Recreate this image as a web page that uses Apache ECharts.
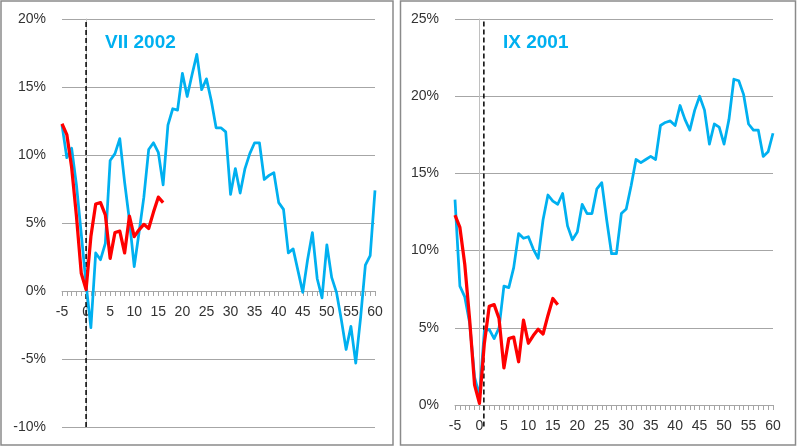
<!DOCTYPE html>
<html>
<head>
<meta charset="utf-8">
<script src="https://cdn.jsdelivr.net/npm/echarts@6/dist/echarts.min.js"></script>
<style>
html,body{margin:0;padding:0;background:#fff;}
#chart{width:800px;height:447px;}
</style>
</head>
<body>
<div id="chart"></div>
<script>
// x positions (months relative to event)
const xLabels = [-5,-4,-3,-2,-1,0,1,2,3,4,5,6,7,8,9,10,11,12,13,14,15,16,17,18,19,20,
  21,22,23,24,25,26,27,28,29,30,31,32,33,34,35,36,37,38,39,40,41,42,43,44,45,
  46,47,48,49,50,51,52,53,54,55,56,57,58,59,60];

// VII 2002 episode (%)
const blue2002 = [12.2,9.8,10.5,7.8,4.2,0.5,-2.7,2.8,2.3,3.5,9.6,10.1,11.2,8.0,5.2,1.8,
  4.3,6.9,10.4,10.9,10.2,7.8,12.2,13.4,13.3,16.0,14.3,15.9,17.4,14.8,15.6,14.0,12.0,
  12.0,11.7,7.1,9.0,7.2,9.0,10.1,10.9,10.9,8.2,8.5,8.7,6.5,6.0,2.8,3.1,1.5,-0.1,2.3,
  4.3,0.9,-0.5,3.4,1.0,-0.1,-2.1,-4.3,-2.6,-5.3,-2.0,1.9,2.6,7.4];

// IX 2001 episode (%)
const blue2001 = [13.3,7.7,7.0,5.3,1.8,0.6,4.8,4.9,4.3,5.0,7.7,7.6,8.9,11.1,10.8,10.9,
  10.1,9.5,12.0,13.6,13.2,13.0,13.7,11.6,10.7,11.2,13.0,12.4,12.4,14.0,14.4,12.0,9.8,
  9.8,12.4,12.7,14.2,15.9,15.7,15.9,16.1,15.9,18.1,18.3,18.4,18.1,19.4,18.5,17.8,19.1,
  20.0,19.1,16.9,18.2,18.0,16.9,18.5,21.1,21.0,20.1,18.2,17.8,17.8,16.1,16.4,17.6];

// current episode (%), from -5 to 16
const redCurrent = [12.3,11.5,9.1,5.5,1.3,0.1,4.0,6.4,6.5,5.6,2.4,4.3,4.4,2.8,5.5,4.0,
  4.5,4.9,4.6,5.8,6.9,6.5];

const panelTitles = ['VII 2002', 'IX 2001'];
const eventX = [0, 0.9];
const yRanges = [[-10, 20], [0, 25]];

const pairs = (ys) => ys.map((v, i) => [xLabels[i], v]);

const BLUE = '#00B0F0', RED = '#FF0000';
const FONT = 'Liberation Sans';

const grids = [
  { left: 62, top: 19, width: 313, height: 408 },
  { left: 455, top: 19, width: 318, height: 386 }
];

function xAxis(idx) {
  const r = yRanges[idx];
  // place the axis at the 0% level of the panel
  const zeroOffset = -grids[idx].height * (0 - r[0]) / (r[1] - r[0]);
  return {
    type: 'value', gridIndex: idx, min: -5, max: 60, interval: 5,
    offset: zeroOffset,
    axisLine: { show: true, onZero: false, lineStyle: { color: '#a6a6a6', width: 1 } },
    axisTick: { show: true, length: 5, lineStyle: { color: '#a6a6a6' } },
    minorTick: { show: true, splitNumber: 5, length: 5, lineStyle: { color: '#a6a6a6' } },
    splitLine: { show: false },
    axisLabel: { fontSize: 14, color: '#333', fontFamily: FONT, margin: 14 }
  };
}
function yAxis(idx) {
  return {
    type: 'value', gridIndex: idx, min: yRanges[idx][0], max: yRanges[idx][1], interval: 5,
    axisLine: { show: true, lineStyle: { color: '#c0c0c0', width: 1 } },
    axisTick: { show: false },
    splitLine: { show: true, lineStyle: { color: '#a6a6a6', width: 1 } },
    axisLabel: { fontSize: 14, color: '#333', fontFamily: FONT, margin: 16, formatter: '{value}%' }
  };
}
function dashSeries(idx, yBottom) {
  return {
    type: 'line', xAxisIndex: idx, yAxisIndex: idx, symbol: 'none', clip: false,
    data: [[eventX[idx], yBottom], [eventX[idx], yRanges[idx][1]]],
    lineStyle: { color: '#000', width: 1.5, type: [5, 3] }, z: 1, silent: true
  };
}
function lineSeries(idx, ys, color, width) {
  return {
    type: 'line', xAxisIndex: idx, yAxisIndex: idx, symbol: 'none',
    data: pairs(ys), lineStyle: { color: color, width: width, join: 'round' }, z: 3
  };
}

const chart = echarts.init(document.getElementById('chart'));
chart.setOption({
  animation: false,
  backgroundColor: '#fff',
  title: [
    { text: panelTitles[0], left: 105, top: 33, padding: 0,
      textStyle: { color: BLUE, fontSize: 19, fontWeight: 'bold', fontFamily: FONT } },
    { text: panelTitles[1], left: 503, top: 33, padding: 0,
      textStyle: { color: BLUE, fontSize: 19, fontWeight: 'bold', fontFamily: FONT } }
  ],
  graphic: [
    { type: 'rect', shape: { x: 1, y: 1, width: 392, height: 444 },
      style: { fill: 'none', stroke: '#8a8a8a', lineWidth: 1.5 }, z: -1 },
    { type: 'rect', shape: { x: 400.5, y: 1, width: 395, height: 444 },
      style: { fill: 'none', stroke: '#8a8a8a', lineWidth: 1.5 }, z: -1 }
  ],
  grid: grids,
  xAxis: [xAxis(0), xAxis(1)],
  yAxis: [yAxis(0), yAxis(1)],
  series: [
    dashSeries(0, -10),
    lineSeries(0, blue2002, BLUE, 2.75),
    lineSeries(0, redCurrent, RED, 3.25),
    dashSeries(1, -1.4),
    lineSeries(1, blue2001, BLUE, 2.75),
    lineSeries(1, redCurrent, RED, 3.25)
  ]
});
</script>
</body>
</html>
